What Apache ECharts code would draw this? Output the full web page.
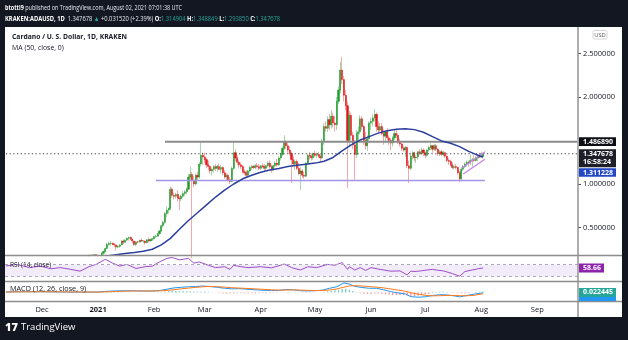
<!DOCTYPE html>
<html>
<head>
<meta charset="utf-8">
<script src="https://cdn.jsdelivr.net/npm/echarts@6/dist/echarts.min.js"></script>
<style>
html,body{margin:0;padding:0;background:#fff}
#c{width:628px;height:340px}
</style>
</head>
<body>
<div id="c"></div>
<script>
// ---- time range of the panes ----
const startDay = '2020-11-11';
const endDay = '2021-09-23';
const candleStart = '2020-12-27';

// ---- daily ADA/USD candles (Kraken), one value per day from candleStart ----
const opens = [
  .170,.182,.184,.180,.186,.181,.175,.178,.205,.224,
  .259,.305,.315,.320,.305,.300,.275,.285,.300,.345,
  .330,.355,.375,.385,.365,.345,.305,.335,.332,.352,
  .345,.345,.325,.360,.345,.365,.370,.395,.400,.430,
  .460,.520,.560,.660,.700,.720,.940,.870,.860,.880,
  .840,.830,.860,.890,.910,.940,1.080,1.110,1.040,1.000,
  1.100,1.080,1.230,1.330,1.310,1.280,1.220,1.200,1.150,1.170,
  1.200,1.180,1.200,1.170,1.190,1.130,1.080,1.100,1.050,1.030,
  1.180,1.360,1.300,1.250,1.220,1.200,1.140,1.130,1.100,1.150,
  1.190,1.200,1.190,1.210,1.200,1.180,1.210,1.200,1.180,1.210,
  1.240,1.200,1.160,1.210,1.240,1.220,1.300,1.340,1.410,1.480,
  1.440,1.390,1.350,1.280,1.230,1.260,1.180,1.120,1.150,1.100,
  1.090,1.240,1.330,1.320,1.300,1.350,1.330,1.340,1.320,1.300,
  1.490,1.660,1.640,1.740,1.680,1.780,1.700,1.680,1.950,2.080,
  2.310,2.200,2.020,1.900,1.500,1.790,1.560,1.450,1.340,1.580,
  1.600,1.750,1.660,1.500,1.440,1.520,1.700,1.720,1.760,1.800,
  1.660,1.620,1.660,1.580,1.550,1.600,1.530,1.500,1.470,1.530,
  1.580,1.560,1.480,1.460,1.410,1.390,1.420,1.210,1.180,1.320,
  1.360,1.300,1.310,1.370,1.350,1.390,1.360,1.330,1.390,1.420,
  1.440,1.400,1.440,1.400,1.350,1.370,1.340,1.360,1.320,1.270,
  1.260,1.220,1.190,1.200,1.190,1.130,1.060,1.170,1.200,1.230,
  1.250,1.240,1.270,1.280,1.270,1.300,1.320,1.310,1.314904
];
const highs = [
  .188,.188,.186,.190,.188,.186,.182,.215,.235,.270,
  .325,.335,.345,.325,.322,.305,.300,.310,.355,.360,
  .365,.385,.395,.400,.372,.350,.345,.345,.360,.375,
  .352,.350,.365,.385,.370,.378,.405,.415,.440,.470,
  .530,.580,.680,.740,.730,.970,.960,.900,.900,.930,
  .860,.880,.920,.930,.960,1.120,1.200,1.140,1.090,1.120,
  1.140,1.250,1.480,1.360,1.360,1.300,1.270,1.220,1.190,1.220,
  1.230,1.220,1.240,1.220,1.200,1.160,1.120,1.120,1.080,1.200,
  1.480,1.400,1.330,1.280,1.250,1.220,1.170,1.160,1.160,1.210,
  1.220,1.220,1.230,1.240,1.230,1.220,1.240,1.230,1.220,1.260,
  1.270,1.220,1.220,1.260,1.290,1.320,1.360,1.430,1.560,1.500,
  1.470,1.430,1.370,1.320,1.280,1.280,1.240,1.190,1.170,1.140,
  1.250,1.350,1.370,1.350,1.360,1.380,1.360,1.370,1.340,1.520,
  1.700,1.720,1.780,1.800,1.850,1.820,1.780,2.000,2.120,2.400,
  2.460,2.240,2.080,1.950,1.840,1.820,1.600,1.500,1.620,1.660,
  1.790,1.780,1.680,1.600,1.560,1.720,1.760,1.800,1.860,1.820,
  1.720,1.700,1.700,1.630,1.620,1.640,1.560,1.530,1.550,1.620,
  1.620,1.580,1.520,1.470,1.440,1.440,1.430,1.270,1.360,1.380,
  1.370,1.330,1.380,1.400,1.420,1.410,1.370,1.400,1.440,1.470,
  1.450,1.460,1.460,1.410,1.390,1.390,1.380,1.370,1.330,1.300,
  1.280,1.250,1.220,1.230,1.200,1.150,1.190,1.220,1.250,1.270,
  1.270,1.340,1.300,1.330,1.320,1.340,1.360,1.370,1.348849
];
const lows = [
  .168,.176,.172,.176,.176,.168,.170,.176,.190,.215,
  .250,.285,.290,.295,.280,.235,.260,.268,.295,.310,
  .325,.345,.350,.355,.320,.290,.285,.320,.330,.340,
  .320,.305,.320,.330,.340,.345,.360,.380,.395,.420,
  .450,.500,.540,.620,.660,.700,.840,.820,.830,.800,
  .700,.800,.840,.860,.880,.930,1.050,.150,.960,.980,
  1.040,1.060,1.200,1.220,1.240,1.180,1.160,1.120,1.100,1.130,
  1.150,1.140,1.160,1.120,1.100,1.060,1.040,1.030,1.000,1.020,
  1.160,1.260,1.220,1.180,1.170,1.120,1.100,1.070,1.080,1.130,
  1.160,1.170,1.170,1.180,1.160,1.160,1.180,1.150,1.160,1.190,
  1.180,1.130,1.150,1.190,1.200,1.210,1.270,1.320,1.390,1.400,
  1.360,1.330,1.010,1.200,1.160,1.160,1.100,.930,1.070,1.060,
  1.080,1.230,1.280,1.270,1.280,1.310,1.300,1.300,1.250,1.290,
  1.450,1.600,1.600,1.620,1.640,1.650,1.600,1.620,1.920,2.040,
  2.150,1.950,1.850,.950,1.420,1.500,1.400,1.050,1.300,1.480,
  1.570,1.620,1.450,1.400,1.380,1.480,1.620,1.660,1.720,1.600,
  1.580,1.600,1.560,1.450,1.480,1.500,1.450,1.390,1.430,1.500,
  1.530,1.460,1.430,1.380,1.370,1.310,1.180,1.010,1.160,1.280,
  1.260,1.240,1.280,1.330,1.330,1.320,1.300,1.310,1.370,1.390,
  1.360,1.380,1.380,1.320,1.320,1.320,1.320,1.300,1.250,1.220,
  1.200,1.170,1.170,1.170,1.110,1.020,1.040,1.150,1.180,1.200,
  1.200,1.220,1.200,1.250,1.260,1.260,1.300,1.300,1.293850
];
const closes = [
  .182,.184,.180,.186,.181,.175,.178,.205,.224,.259,
  .305,.315,.320,.305,.300,.275,.285,.300,.345,.330,
  .355,.375,.385,.365,.345,.305,.335,.332,.352,.345,
  .345,.325,.360,.345,.365,.370,.395,.400,.430,.460,
  .520,.560,.660,.700,.720,.940,.870,.860,.880,.840,
  .830,.860,.890,.910,.940,1.080,1.110,1.040,1.000,1.100,
  1.080,1.230,1.330,1.310,1.280,1.220,1.200,1.150,1.170,1.200,
  1.180,1.200,1.170,1.190,1.130,1.080,1.100,1.050,1.030,1.180,
  1.360,1.300,1.250,1.220,1.200,1.140,1.130,1.100,1.150,1.190,
  1.200,1.190,1.210,1.200,1.180,1.210,1.200,1.180,1.210,1.240,
  1.200,1.160,1.210,1.240,1.220,1.300,1.340,1.410,1.480,1.440,
  1.390,1.350,1.280,1.230,1.260,1.180,1.120,1.150,1.100,1.090,
  1.240,1.330,1.320,1.300,1.350,1.330,1.340,1.320,1.300,1.490,
  1.660,1.640,1.740,1.680,1.780,1.700,1.680,1.950,2.080,2.310,
  2.200,2.020,1.900,1.500,1.790,1.560,1.450,1.340,1.580,1.600,
  1.750,1.660,1.500,1.440,1.520,1.700,1.720,1.760,1.800,1.660,
  1.620,1.660,1.580,1.550,1.600,1.530,1.500,1.470,1.530,1.580,
  1.560,1.480,1.460,1.410,1.390,1.420,1.210,1.180,1.320,1.360,
  1.300,1.310,1.370,1.350,1.390,1.360,1.330,1.390,1.420,1.440,
  1.400,1.440,1.400,1.350,1.370,1.340,1.360,1.320,1.270,1.260,
  1.220,1.190,1.200,1.190,1.130,1.060,1.170,1.200,1.230,1.250,
  1.240,1.270,1.280,1.270,1.300,1.320,1.310,1.316158,1.347678
];

// ---- MA (50, close) ----
const maDates = ['2020-12-27','2021-01-01','2021-01-06','2021-01-11','2021-01-16','2021-01-21','2021-01-26','2021-01-31',
  '2021-02-05','2021-02-10','2021-02-15','2021-02-20','2021-02-25','2021-03-02','2021-03-07','2021-03-12','2021-03-17',
  '2021-03-22','2021-03-27','2021-04-01','2021-04-06','2021-04-11','2021-04-16','2021-04-21','2021-04-26','2021-05-01',
  '2021-05-06','2021-05-11','2021-05-16','2021-05-21','2021-05-26','2021-05-31','2021-06-05','2021-06-10','2021-06-15',
  '2021-06-20','2021-06-25','2021-06-30','2021-07-05','2021-07-10','2021-07-15','2021-07-20','2021-07-25','2021-07-29','2021-08-02'];
const maValues = [0.150,0.160,0.172,0.188,0.200,0.212,0.228,0.250,
  0.300,0.375,0.480,0.580,0.670,0.760,0.850,0.930,1.000,
  1.060,1.100,1.135,1.160,1.178,1.200,1.215,1.228,1.240,
  1.262,1.305,1.380,1.450,1.505,1.545,1.585,1.612,1.630,
  1.635,1.625,1.595,1.545,1.495,1.468,1.430,1.375,1.340,1.311228];

// ---- RSI (14, close) ----
const rsiDates = ['2020-11-11','2020-11-17','2020-11-24','2020-11-30','2020-12-06','2020-12-11','2020-12-17','2020-12-22',
  '2020-12-27','2020-12-31','2021-01-05','2021-01-09','2021-01-13','2021-01-17','2021-01-22','2021-01-27','2021-01-31',
  '2021-02-04','2021-02-08','2021-02-11','2021-02-15','2021-02-20','2021-02-23','2021-02-26','2021-03-03','2021-03-07',
  '2021-03-12','2021-03-15','2021-03-17','2021-03-21','2021-03-25','2021-04-01','2021-04-07','2021-04-14','2021-04-18',
  '2021-04-23','2021-04-27','2021-05-02','2021-05-08','2021-05-12','2021-05-16','2021-05-19','2021-05-20','2021-05-23',
  '2021-05-26','2021-05-29','2021-06-01','2021-06-06','2021-06-12','2021-06-17','2021-06-21','2021-06-23','2021-06-26',
  '2021-07-02','2021-07-05','2021-07-07','2021-07-11','2021-07-16','2021-07-20','2021-07-23','2021-07-27','2021-07-30','2021-08-02'];
const rsiValues = [65.5,71,60,65,56,60,54,48,
  63,71,88,75,65,71,57,63,65,
  79,91,94,86,91,75,79,68,60,
  63,54,68,63,60,63,59,72,60,
  52,63,60,71,68,77,54,63,52,
  60,50.5,60,54,48,49,35.6,48,47,
  52,54,52,49,40,31,47,52,56,58.66];

// ---- MACD (12, 26, close, 9) ----
const macdDates = ['2020-11-11','2020-11-22','2020-12-02','2020-12-12','2020-12-22','2021-01-01','2021-01-06','2021-01-11',
  '2021-01-17','2021-01-23','2021-01-29','2021-02-04','2021-02-08','2021-02-12','2021-02-16','2021-02-20','2021-02-24',
  '2021-02-28','2021-03-04','2021-03-08','2021-03-12','2021-03-16','2021-03-20','2021-03-26','2021-04-01','2021-04-07',
  '2021-04-11','2021-04-15','2021-04-19','2021-04-23','2021-04-27','2021-05-01','2021-05-05','2021-05-09','2021-05-13',
  '2021-05-17','2021-05-20','2021-05-23','2021-05-27','2021-05-31','2021-06-04','2021-06-08','2021-06-12','2021-06-16',
  '2021-06-20','2021-06-23','2021-06-27','2021-07-01','2021-07-05','2021-07-09','2021-07-13','2021-07-17','2021-07-20',
  '2021-07-24','2021-07-28','2021-08-02'];
const macdValues = [0.015,0.020,0.018,0.012,0.008,0.012,0.030,0.040,
  0.045,0.040,0.036,0.050,0.085,0.120,0.135,0.150,0.155,
  0.170,0.155,0.135,0.110,0.095,0.100,0.080,0.060,0.050,
  0.055,0.075,0.070,0.045,0.040,0.045,0.060,0.110,0.150,
  0.250,0.220,0.160,0.130,0.110,0.110,0.070,0.020,-0.010,
  -0.040,-0.110,-0.125,-0.115,-0.080,-0.060,-0.065,-0.090,-0.115,
  -0.080,-0.045,-0.011];
const signalValues = [0.010,0.016,0.018,0.015,0.011,0.010,0.016,0.026,
  0.036,0.040,0.039,0.042,0.052,0.072,0.095,0.115,0.133,
  0.150,0.158,0.152,0.140,0.125,0.115,0.102,0.085,0.070,
  0.062,0.064,0.067,0.062,0.055,0.050,0.051,0.065,0.090,
  0.140,0.170,0.180,0.170,0.155,0.140,0.120,0.090,0.060,
  0.030,-0.005,-0.045,-0.075,-0.090,-0.085,-0.078,-0.078,-0.085,
  -0.088,-0.075,-0.0335];
// histogram, one value every second day starting at startDay
const histValues = [
  0.004,0.006,0.005,0.004,0.002,0.001,0.000,-0.002,-0.003,-0.002,
  -0.001,-0.002,-0.003,-0.004,-0.003,-0.002,-0.003,-0.004,-0.005,-0.004,
  -0.004,-0.003,-0.002,0.000,0.001,0.002,0.004,0.008,0.013,0.015,
  0.014,0.012,0.010,0.008,0.006,0.003,0.000,-0.002,-0.003,-0.003,
  -0.001,0.002,0.006,0.010,0.025,0.035,0.045,0.040,0.038,0.036,
  0.035,0.032,0.025,0.022,0.020,0.024,0.018,0.005,-0.005,-0.015,
  -0.025,-0.030,-0.030,-0.025,-0.018,-0.015,-0.020,-0.022,-0.020,-0.022,
  -0.022,-0.020,-0.018,-0.015,-0.012,-0.008,-0.002,0.006,0.010,0.006,
  0.002,-0.006,-0.012,-0.015,-0.012,-0.008,-0.004,0.002,0.010,0.030,
  0.045,0.055,0.070,0.090,0.100,0.070,0.040,0.010,-0.020,-0.035,
  -0.040,-0.038,-0.030,-0.030,-0.035,-0.045,-0.055,-0.065,-0.068,-0.070,
  -0.070,-0.080,-0.100,-0.095,-0.085,-0.070,-0.055,-0.040,-0.020,0.010,
  0.020,0.020,0.015,0.005,-0.005,-0.012,-0.020,-0.025,-0.020,-0.005,
  0.010,0.018,0.022445
];

// ---- drawn levels ----
const resistanceLevel = 1.48689, resistanceFrom = '2021-02-07';
const supportLevel = 1.04, supportFrom = '2021-02-02', supportTo = '2021-08-03';
const lastPrice = 1.347678, maLast = 1.311228, rsiLast = 58.66, histLast = 0.022445;
const channelUpper = [['2021-07-21', 1.18], ['2021-08-03', 1.37]];
const channelLower = [['2021-07-22', 1.115], ['2021-08-03', 1.285]];
const priceTicks = [0.5, 1, 2, 2.5];
const MONTHS = ['Jan','Feb','Mar','Apr','May','Jun','Jul','Aug','Sep','Oct','Nov','Dec'];

// ---- helpers ----
function addDays(s, n) {
  const d = new Date(s + 'T00:00:00Z');
  d.setUTCDate(d.getUTCDate() + n);
  return d.toISOString().slice(0, 10);
}
const days = [];
for (let d = startDay; d <= endDay; d = addDays(d, 1)) days.push(d);

const wickRows = opens.map((o, k) => [addDays(candleStart, k), o, closes[k], lows[k], highs[k]]);
const bodyRows = opens.map((o, k) => [addDays(candleStart, k), o, closes[k], Math.min(o, closes[k]), Math.max(o, closes[k])]);
const maRows = maDates.map((d, k) => [d, maValues[k]]);
const rsiRows = rsiDates.map((d, k) => [d, rsiValues[k]]);
const macdRows = macdDates.map((d, k) => [d, macdValues[k]]);
const signalRows = macdDates.map((d, k) => [d, signalValues[k]]);
const histRows = histValues.map((v, k) => [addDays(startDay, 2 * k), v]);

const FONT = 'Open Sans';
const INK = '#131722';
const chart = echarts.init(document.getElementById('c'), null, { renderer: 'canvas' });

const grids = [
  { left: 5, right: 50, top: 27, height: 228 },
  { left: 5, right: 50, top: 256, height: 25 },
  { left: 5, right: 50, top: 282, height: 19 }
];

function xAxisFor(g) {
  return {
    type: 'category', gridIndex: g, data: days, boundaryGap: true,
    axisLine: { show: false }, axisTick: { show: false }, splitLine: { show: false },
    axisLabel: g === 2 ? {
      show: true, color: INK, fontSize: 7.5, fontFamily: FONT, margin: 5,
      interval: (idx, val) => val.slice(8) === '01',
      formatter: v => v.slice(5, 7) === '01' ? '{y|' + v.slice(0, 4) + '}' : MONTHS[+v.slice(5, 7) - 1],
      rich: { y: { fontWeight: 'bold', fontSize: 7.5, color: INK, fontFamily: FONT } }
    } : { show: false }
  };
}

function flatLine(name, rows, color, width, type, xi, yi, z) {
  return {
    name, type: 'line', xAxisIndex: xi || 0, yAxisIndex: yi || 0, data: rows,
    symbol: 'none', silent: true, z: z || 4,
    lineStyle: { color, width, type: type || 'solid' }
  };
}

const option = {
  animation: false,
  backgroundColor: '#ffffff',
  textStyle: { fontFamily: FONT },
  grid: grids,
  xAxis: [xAxisFor(0), xAxisFor(1), xAxisFor(2)],
  yAxis: [
    {
      gridIndex: 0, type: 'value', position: 'right', min: 0.1839, max: 2.8046,
      axisLine: { show: false }, splitLine: { show: false },
      axisTick: { show: true, length: 3, lineStyle: { color: '#555' }, customValues: priceTicks },
      axisLabel: { customValues: priceTicks, formatter: v => v.toFixed(6), fontSize: 7.5, color: INK, margin: 5, fontFamily: FONT }
    },
    { gridIndex: 1, type: 'value', min: 15, max: 99, show: false },
    { gridIndex: 2, type: 'value', min: -0.225, max: 0.275, show: false }
  ],
  series: [
    {
      name: 'wicks', type: 'candlestick', xAxisIndex: 0, yAxisIndex: 0, data: wickRows,
      encode: { x: 0, y: [1, 2, 3, 4] }, barWidth: 1, z: 2, silent: true,
      itemStyle: { color: '#a8d6a8', color0: '#f4a9a9', borderColor: '#a8d6a8', borderColor0: '#f4a9a9', borderWidth: 1 }
    },
    {
      name: 'bodies', type: 'candlestick', xAxisIndex: 0, yAxisIndex: 0, data: bodyRows,
      encode: { x: 0, y: [1, 2, 3, 4] }, barWidth: 1.6, z: 3, silent: true,
      itemStyle: { color: '#1f9a2c', color0: '#e2171b', borderColor: '#1f9a2c', borderColor0: '#e2171b', borderWidth: 0.5 }
    },
    flatLine('MA', maRows, '#2b3f9f', 1.5, 'solid', 0, 0, 5),
    flatLine('resistance', [[resistanceFrom, resistanceLevel], [endDay, resistanceLevel]], '#8c8c8c', 2),
    flatLine('last', [[startDay, lastPrice], [endDay, lastPrice]], '#4a4a4a', 1, [1.3, 2.4]),
    flatLine('support', [[supportFrom, supportLevel], [supportTo, supportLevel]], '#a293e6', 1.5),
    flatLine('channelUpper', channelUpper, '#c584ee', 1.3),
    flatLine('channelLower', channelLower, '#c584ee', 1.3),
    {
      name: 'RSI', type: 'line', xAxisIndex: 1, yAxisIndex: 1, data: rsiRows, symbol: 'none', silent: true,
      lineStyle: { color: '#a04cc8', width: 1 }, z: 4,
      markArea: { silent: true, itemStyle: { color: 'rgba(156,110,220,0.13)' }, data: [[{ yAxis: 30 }, { yAxis: 70 }]] },
      markLine: { silent: true, symbol: 'none', label: { show: false },
        lineStyle: { type: [3, 3], color: '#a9a9b8', width: 1 }, data: [{ yAxis: 70 }, { yAxis: 30 }] }
    },
    {
      name: 'hist', type: 'bar', xAxisIndex: 2, yAxisIndex: 2, data: histRows, barWidth: 1.4, silent: true, z: 2,
      itemStyle: { color: p => (p.value[1] >= 0 ? '#7fd0c5' : '#f59797') }
    },
    flatLine('MACD', macdRows, '#2196f3', 1, 'solid', 2, 2, 4),
    flatLine('Signal', signalRows, '#ff7a1a', 1, 'solid', 2, 2, 4)
  ]
};
chart.setOption(option);

// ---- frame, captions and value tags ----
const yMain = v => chart.convertToPixel({ yAxisIndex: 0 }, v);
const yRsi = v => chart.convertToPixel({ yAxisIndex: 1 }, v);
const yMacd = v => chart.convertToPixel({ yAxisIndex: 2 }, v);

function tag(y, h, fill, lines, w) {
  const els = [{ type: 'rect', shape: { x: 579, y: y, width: w || 37, height: h }, style: { fill }, z: 60 }];
  lines.forEach((t, k) => {
    els.push({ type: 'text', x: 583, y: y + 4.4 + k * 8.6, z: 61,
      style: { text: t, fill: '#fff', fontSize: 7, fontWeight: 'bold', fontFamily: FONT, verticalAlign: 'middle' } });
  });
  return els;
}

// text element squeezed horizontally to the narrow UI face
function caption(x, y, text, size, sx, extra) {
  return Object.assign({ type: 'text', x, y, scaleX: sx, z: 56,
    style: Object.assign({ text, fill: INK, fontSize: size, fontFamily: FONT, verticalAlign: 'middle' }, extra || {}) });
}

const dark = '#131722';
const yRes = yMain(resistanceLevel), yLast = yMain(lastPrice);
const lastTop = yLast - 4.4;
const hdrRich = {
  b: { fontWeight: 'bold', fill: '#ffffff', fontSize: 7.4, fontFamily: FONT },
  g: { fill: '#26a69a', fontSize: 7.4, fontFamily: FONT }
};
const graphics = [
  // dark surround
  { type: 'rect', shape: { x: 0, y: 0, width: 628, height: 27 }, style: { fill: dark }, z: 50 },
  { type: 'rect', shape: { x: 0, y: 317, width: 628, height: 23 }, style: { fill: dark }, z: 50 },
  { type: 'rect', shape: { x: 0, y: 0, width: 5, height: 340 }, style: { fill: dark }, z: 50 },
  { type: 'rect', shape: { x: 622, y: 0, width: 6, height: 340 }, style: { fill: dark }, z: 50 },
  // pane separators
  { type: 'line', shape: { x1: 5, y1: 255.5, x2: 622, y2: 255.5 }, style: { stroke: '#8c8c8c', lineWidth: 1.4 }, z: 55 },
  { type: 'line', shape: { x1: 5, y1: 281.5, x2: 622, y2: 281.5 }, style: { stroke: '#8c8c8c', lineWidth: 1.4 }, z: 55 },
  { type: 'line', shape: { x1: 5, y1: 301.5, x2: 622, y2: 301.5 }, style: { stroke: '#8c8c8c', lineWidth: 1.4 }, z: 55 },
  { type: 'line', shape: { x1: 578, y1: 27, x2: 578, y2: 317 }, style: { stroke: '#8c8c8c', lineWidth: 1.4 }, z: 55 },
  // header
  caption(5, 7.5, '{b|btotti9} published on TradingView.com, August 02, 2021 07:01:38 UTC', 7.4, 0.74,
    { fill: '#e6e8ee', rich: hdrRich }),
  caption(5, 18.5, '{b|KRAKEN:ADAUSD, 1D}  1.347678 {g|▲} +0.031520 (+2.39%) {b|O:}{g|1.314904} {b|H:}{g|1.348849} {b|L:}{g|1.293850} {b|C:}{g|1.347678}', 7.4, 0.78,
    { fill: '#e6e8ee', rich: hdrRich }),
  // pane captions
  caption(12, 36.5, 'Cardano / U. S. Dollar, 1D, KRAKEN', 7.6, 0.89, { fontWeight: 'bold' }),
  caption(12, 47.5, 'MA (50, close, 0)', 7.6, 0.91),
  caption(10, 265, 'RSI (14, close)', 7.4, 0.88),
  caption(10, 289, 'MACD (12, 26, close, 9)', 7.4, 0.98),
  // currency badge
  { type: 'rect', shape: { x: 593, y: 30.5, width: 14, height: 8.5, r: 1.5 }, style: { fill: '#fff', stroke: '#c9c9c9', lineWidth: 0.8 }, z: 56 },
  { type: 'text', x: 600, y: 35, z: 57, style: { text: 'USD', fill: '#555', fontSize: 5.8, fontFamily: FONT, align: 'center', verticalAlign: 'middle' } },
  // logo
  { type: 'text', x: 5, y: 327.5, z: 57, style: { text: '17', fill: '#ffffff', fontSize: 11, fontWeight: 900, fontFamily: FONT, verticalAlign: 'middle' } },
  { type: 'text', x: 21, y: 327.5, z: 57, style: { text: 'TradingView', fill: '#ffffff', fontSize: 9.5, fontFamily: FONT, verticalAlign: 'middle' } }
];
graphics.push(...tag(yRes - 4.4, 8.8, '#0d0f14', [resistanceLevel.toFixed(6)]));
graphics.push(...tag(lastTop, 18, '#1c1f27', [lastPrice.toFixed(6), '16:58:24']));
graphics.push(...tag(lastTop + 19, 8.4, '#2447c6', [maLast.toFixed(6)]));
graphics.push(...tag(yRsi(rsiLast) - 4.5, 9, '#8e24aa', [rsiLast.toFixed(2)], 25));
const yh = yMacd(histLast) - 3.5;
graphics.push({ type: 'rect', shape: { x: 579, y: yh + 8, width: 37, height: 301 - (yh + 8) }, style: { fill: '#2196f3' }, z: 59 });
graphics.push(...tag(yh, 9, '#26a69a', [histLast.toFixed(6)]));

chart.setOption({ graphic: graphics });
</script>
</body>
</html>
